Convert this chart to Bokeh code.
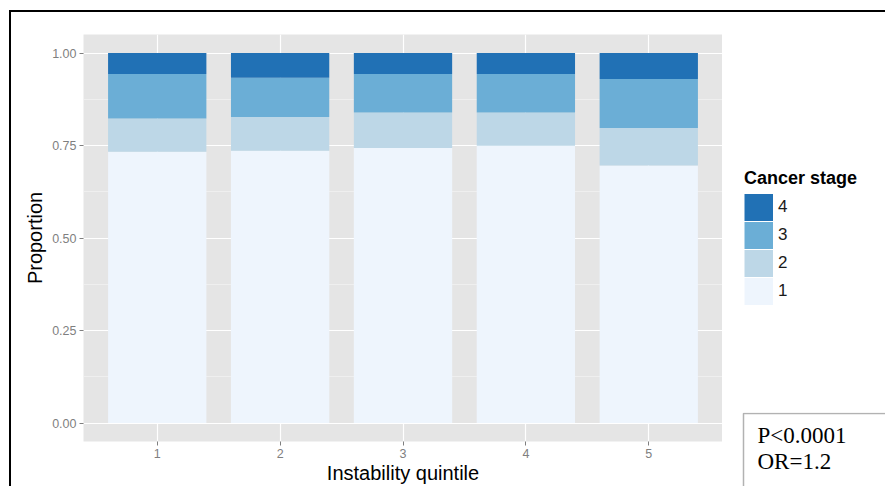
from bokeh.plotting import figure
from bokeh.layouts import row, column
from bokeh.models import (ColumnDataSource, Legend, LegendItem, BoxAnnotation, Label,
                          FixedTicker, NumeralTickFormatter)
from bokeh.embed import file_html
from bokeh.resources import INLINE

# ---- data ----
quintiles = [1, 2, 3, 4, 5]
quintile_labels = ["1", "2", "3", "4", "5"]
stage1 = [0.733, 0.736, 0.743, 0.749, 0.696]
stage2 = [0.090, 0.091, 0.096, 0.090, 0.101]
stage3 = [0.120, 0.106, 0.104, 0.104, 0.133]
stage4 = [0.057, 0.067, 0.057, 0.057, 0.070]
stages = ["1", "2", "3", "4"]
colors = ["#eef5fd", "#bdd7e7", "#6baed6", "#2171b5"]
y_ticks = [0, 0.25, 0.5, 0.75, 1.0]
y_minor = [0.125, 0.375, 0.625, 0.875]
stat_lines = ["P<0.0001", "OR=1.2"]

source = ColumnDataSource(dict(q=quintiles, s1=stage1, s2=stage2, s3=stage3, s4=stage4))

FONT = "Liberation Sans"
OX, OY = 11, 12            # content origin after outer margin + border
MAIN_W, SIDE_W, H = 711, 163, 474
BOX_TOP = 412              # page y of the statistics box
LEG_H = BOX_TOP - OY
BOX_H = H - LEG_H

# ---------------- main chart ----------------
p = figure(width=MAIN_W, height=H, x_range=(0.4, 5.6), y_range=(-0.05, 1.05),
           output_backend="svg", toolbar_location=None,
           min_border_left=83 - OX, min_border_top=34 - OY,
           min_border_bottom=H - (443 - OY), min_border_right=0)
p.background_fill_color = "#e5e5e5"
p.border_fill_color = "white"
p.outline_line_color = None

renderers = p.vbar_stack(["s1", "s2", "s3", "s4"], x="q", width=0.8, source=source,
                         color=colors, line_color=None)

p.xgrid.ticker = FixedTicker(ticks=quintiles)
p.xgrid.grid_line_color = "white"
p.xgrid.grid_line_width = 1.2
p.ygrid.ticker = FixedTicker(ticks=y_ticks, minor_ticks=y_minor)
p.ygrid.grid_line_color = "white"
p.ygrid.grid_line_width = 1.2
p.ygrid.minor_grid_line_color = "#f4f4f4"
p.ygrid.minor_grid_line_width = 0.7

p.xaxis.ticker = FixedTicker(ticks=quintiles)
p.xaxis.major_label_overrides = {q: l for q, l in zip(quintiles, quintile_labels)}
p.yaxis.ticker = FixedTicker(ticks=y_ticks, minor_ticks=y_minor)
p.yaxis.formatter = NumeralTickFormatter(format="0.00")
for ax in (p.xaxis[0], p.yaxis[0]):
    ax.axis_line_color = None
    ax.major_tick_line_color = "#7f7f7f"
    ax.major_tick_out = 4
    ax.major_tick_in = 0
    ax.minor_tick_line_color = None
    ax.major_label_text_color = "#7f7f7f"
    ax.major_label_text_font = FONT
    ax.major_label_text_font_size = "12.5px"
    ax.major_label_standoff = 3
    ax.axis_label_text_font = FONT
    ax.axis_label_text_font_size = "20px"
    ax.axis_label_text_font_style = "normal"
    ax.axis_label_text_color = "black"
p.xaxis.axis_label = "Instability quintile"
p.yaxis.axis_label = "Proportion"
p.xaxis.axis_label_standoff = 1
p.yaxis.axis_label_standoff = 3


def blank(width, height):
    f = figure(width=width, height=height, x_range=(0, width), y_range=(height, 0),
               output_backend="svg", toolbar_location=None, title=None,
               x_axis_location=None, y_axis_location=None,
               min_border_left=0, min_border_right=0, min_border_top=0, min_border_bottom=0)
    f.grid.visible = False
    f.outline_line_color = None
    f.background_fill_color = "white"
    f.border_fill_color = "white"
    return f


# ---------------- side: legend ----------------
# legend keys are thick zero-length lines: their legend swatch fills the whole key cell
lg = blank(SIDE_W, LEG_H)
key_src = ColumnDataSource(dict(x=[0, 0], y=[0, 0]))
keys = [lg.line(x="x", y="y", source=key_src, line_color=c, line_width=27,
                line_cap="butt") for c in colors]
items = [LegendItem(label=stages[i], renderers=[keys[i]]) for i in (3, 2, 1, 0)]
legend = Legend(items=items, title="Cancer stage", location=(22, BOX_TOP - 305),
                glyph_width=29, glyph_height=28, label_height=28, spacing=0,
                padding=0, margin=0, border_line_color=None, background_fill_color=None,
                label_standoff=5, label_text_font=FONT, label_text_font_size="17px",
                label_text_color="#1a1a1a",
                title_text_font=FONT, title_text_font_size="18px",
                title_text_font_style="bold", title_text_color="black", title_standoff=4)
lg.add_layout(legend)

# ---------------- side: statistics box ----------------
bx = blank(SIDE_W, BOX_H)
bx.add_layout(BoxAnnotation(left=743 - 722, right=SIDE_W + 200, top=1, bottom=BOX_H + 200,
                            fill_color="white", fill_alpha=1.0,
                            line_color="black", line_width=1.5))
for i, t in enumerate(stat_lines):
    bx.add_layout(Label(x=757 - 722, y=435 - BOX_TOP + 26 * i, text=t,
                        text_font="Liberation Serif", text_font_size="23px",
                        text_color="black", text_baseline="alphabetic"))

side = column(lg, bx, spacing=0)
layout = row(p, side, spacing=0, margin=(10, 0, 0, 9),
             styles={"border-top": "2px solid black", "border-left": "2px solid black"})

open("out.html", "w").write(file_html(layout, INLINE))
